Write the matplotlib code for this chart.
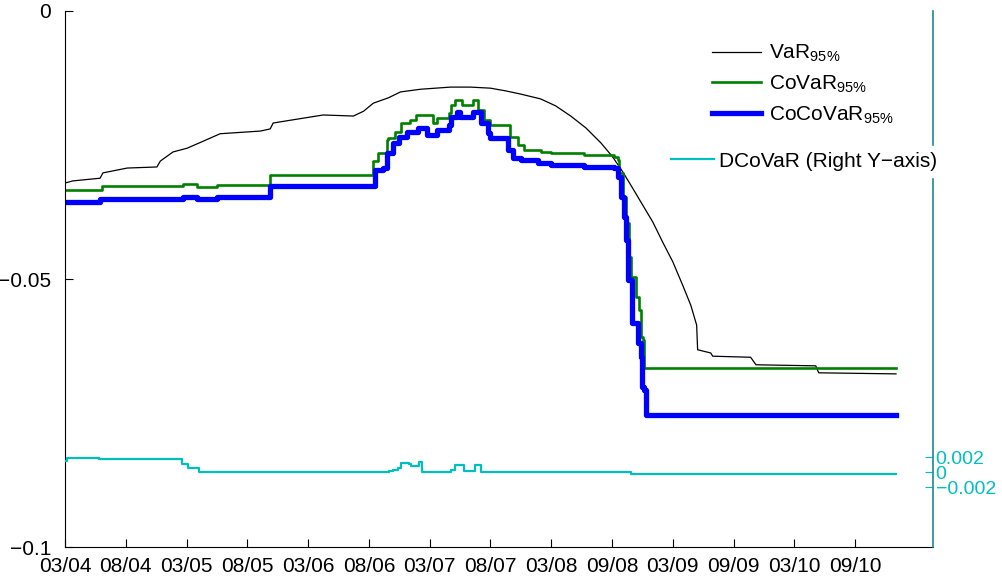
import numpy as np
import matplotlib
matplotlib.use("Agg")
import matplotlib.pyplot as plt
from matplotlib.lines import Line2D

plt.rcParams['font.family'] = ['Liberation Sans', 'DejaVu Sans']
plt.rcParams['mathtext.fontset'] = 'custom'
plt.rcParams['mathtext.rm'] = 'Liberation Sans'
plt.rcParams['mathtext.it'] = 'Liberation Sans'

# x axis = trading-day index, labels every 125 days
tick_labels = ['03/04', '08/04', '03/05', '08/05', '03/06', '08/06', '03/07',
               '08/07', '03/08', '09/08', '03/09', '09/09', '03/10', '09/10']

# VaR 95% (black)
var_x = [0, 16, 72, 78, 128, 189, 196, 222, 251, 284, 319, 402, 422, 428, 469,
         531, 593, 614, 634, 665, 690, 731, 793, 834, 875, 906, 937, 978, 1009,
         1040, 1071, 1102, 1126, 1147, 1167, 1188, 1209, 1229, 1250, 1270, 1287,
         1299, 1301, 1328, 1332, 1410, 1421, 1544, 1550, 1709]
var_y = [-0.0321, -0.0317, -0.0312, -0.0302, -0.0293, -0.0291, -0.0280, -0.0263,
         -0.0256, -0.0243, -0.0229, -0.0224, -0.0220, -0.0209, -0.0203, -0.0194,
         -0.0196, -0.0187, -0.0172, -0.0162, -0.0151, -0.0146, -0.0142, -0.0142,
         -0.0144, -0.0149, -0.0155, -0.0164, -0.0177, -0.0196, -0.0218, -0.0246,
         -0.0272, -0.0300, -0.0330, -0.0362, -0.0394, -0.0431, -0.0468, -0.0511,
         -0.0549, -0.0586, -0.0632, -0.0638, -0.0644, -0.0646, -0.0660, -0.0662,
         -0.0675, -0.0677]

# CoVaR 95% (green), step changes
covar_x = [0, 76, 243, 272, 313, 422, 634, 644, 663, 665, 679, 690, 710, 721,
           752, 756, 766, 789, 793, 803, 817, 840, 850, 861, 875, 916, 931, 943,
           978, 999, 1067, 1128, 1137, 1139, 1147, 1153, 1159, 1163, 1174, 1180,
           1184, 1188, 1190, 1709]
covar_y = [-0.0334, -0.0326, -0.0323, -0.0328, -0.0325, -0.0306, -0.0280, -0.0265,
           -0.0241, -0.0237, -0.0226, -0.0209, -0.0203, -0.0194, -0.0194, -0.0209,
           -0.0200, -0.0190, -0.0175, -0.0166, -0.0175, -0.0166, -0.0185, -0.0203,
           -0.0213, -0.0235, -0.0250, -0.0259, -0.0263, -0.0265, -0.0269, -0.0272,
           -0.0278, -0.0302, -0.0347, -0.0396, -0.0459, -0.0496, -0.0534, -0.0558,
           -0.0608, -0.0614, -0.0666, -0.0666]

# CoCoVaR 95% (blue), step changes
cocovar_x = [0, 72, 243, 272, 313, 422, 638, 653, 663, 675, 686, 704, 725, 745,
             766, 789, 793, 807, 813, 840, 855, 869, 875, 912, 922, 937, 972, 999,
             1067, 1128, 1137, 1143, 1149, 1153, 1157, 1167, 1178, 1184, 1186,
             1190, 1194, 1709]
cocovar_y = [-0.0356, -0.0351, -0.0347, -0.0351, -0.0347, -0.0327, -0.0297, -0.0293,
             -0.0265, -0.0246, -0.0235, -0.0226, -0.0218, -0.0231, -0.0222, -0.0213,
             -0.0198, -0.0188, -0.0198, -0.0188, -0.0209, -0.0228, -0.0237, -0.0259,
             -0.0274, -0.0278, -0.0284, -0.0287, -0.0291, -0.0293, -0.0310, -0.0347,
             -0.0384, -0.0427, -0.0502, -0.0582, -0.0619, -0.0646, -0.0701, -0.0707,
             -0.0754, -0.0754]

# DCoVaR (cyan, right axis), step changes
dcovar_x = [0, 4, 70, 241, 253, 276, 667, 675, 684, 690, 708, 712, 727, 735, 793,
            801, 820, 844, 855, 1163, 1176, 1709]
dcovar_y = [0.0015, 0.0019, 0.0018, 0.0011, 0.0005, 0.0, 0.0001, 0.0003, 0.0006,
            0.0012, 0.0011, 0.0008, 0.0014, 0.0, 0.0003, 0.0010, 0.0002, 0.0010,
            0.0, -0.0003, -0.0002, -0.0002]

fig = plt.figure(figsize=(10.02, 5.78), dpi=100)
ax = fig.add_axes([0.0649, 0.0536, 0.8662, 0.9274])

ax.plot(var_x, var_y, color='black', lw=0.9)
ax.plot(covar_x, covar_y, color='#008000', lw=1.9, drawstyle='steps-post')
ax.plot(cocovar_x, cocovar_y, color='#0000ff', lw=3.8, drawstyle='steps-post')

ax.set_xlim(0, 1785)
ax.set_ylim(-0.1, 0)
ax.set_yticks([-0.1, -0.05, 0])
ax.set_yticklabels(['\u22120.1', '\u22120.05', '0'])
ax.set_xticks(np.arange(len(tick_labels)) * 125)
ax.set_xticklabels(tick_labels)
ax.tick_params(direction='in', length=6, labelsize=15, right=True, pad=10)
ax.tick_params(axis='x', pad=7)
ax.spines['top'].set_visible(False)
ax.spines['right'].set_visible(False)

ax2 = ax.twinx()
ax2.plot(dcovar_x, dcovar_y, color='#00bfbf', lw=1.6, drawstyle='steps-post')
ax2.set_ylim(-0.0100, 0.0615)
ax2.set_yticks([-0.002, 0, 0.002])
ax2.set_yticklabels(['\u22120.002', '0', '0.002'])
ax2.tick_params(axis='y', direction='in', length=6, labelsize=14, colors='#00bfbf', pad=2)
ax2.spines['right'].set_color('#1a8a8a')
ax2.spines['right'].set_linewidth(1.2)
ax2.spines['top'].set_visible(False)
ax2.spines['left'].set_visible(False)
ax2.spines['bottom'].set_visible(False)

h1 = [Line2D([], [], color='black', lw=0.9),
      Line2D([], [], color='#008000', lw=1.9),
      Line2D([], [], color='#0000ff', lw=3.8)]
leg1 = ax2.legend(h1, [r'VaR$_{95\%}$', r'CoVaR$_{95\%}$', r'CoCoVaR$_{95\%}$'],
                  loc='upper left', bbox_to_anchor=(0.692, 0.958),
                  bbox_transform=fig.transFigure, frameon=False, fontsize=15,
                  handlelength=2.35, handletextpad=0.38, labelspacing=0.45)
ax2.add_artist(leg1)
h2 = [Line2D([], [], color='#00bfbf', lw=1.6)]
leg2 = ax2.legend(h2, ['DCoVaR (Right Y\u2212axis)'], loc='center left',
                  bbox_to_anchor=(0.653, 0.721), bbox_transform=fig.transFigure,
                  frameon=True, fancybox=False, edgecolor='white', framealpha=1,
                  fontsize=15, handlelength=2.07, handletextpad=0.25, borderpad=0.3)

plt.savefig("out.png", dpi=100)
